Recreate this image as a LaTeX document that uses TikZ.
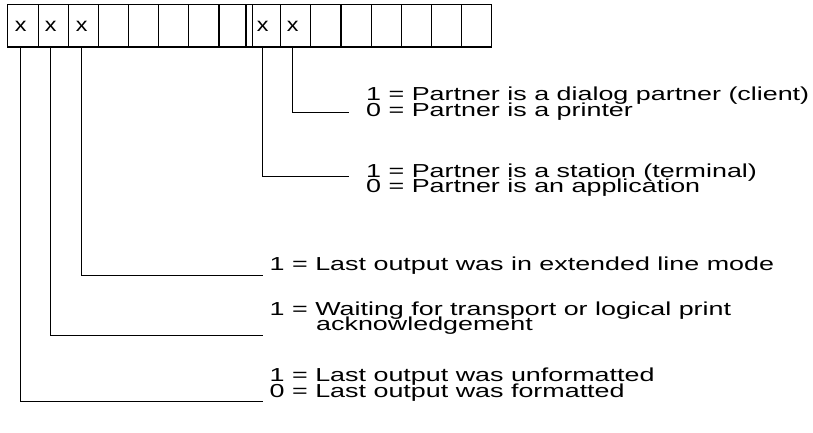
\documentclass[tikz,border=0pt]{standalone}
\usepackage{fontspec}
\newfontfamily\lblfont[FakeStretch=1.43]{Liberation Sans}
\newfontfamily\markfont[FakeStretch=1.2]{Liberation Sans}
\begin{document}
\begin{tikzpicture}[x=1pt,y=-1pt,
  grid/.style={line width=1.1pt},
  sepline/.style={line width=1.9pt},
  conn/.style={line width=1pt},
  lbl/.style={anchor=base west,inner sep=0pt,font=\lblfont\fontsize{18.8}{15.5}\selectfont},
  bitx/.style={inner sep=0pt,font=\markfont\fontsize{19.5}{20}\selectfont}]
\useasboundingbox (0,0) rectangle (813,433);
% register cells
\draw[grid] (7.5,4.5) rectangle (491.7,47);
\foreach \xx in {38.2,68.3,98.5,128.6,158.8,188.9,219,280.7,310.85,341,371.15,401.3,431.45,461.6}
  \draw[grid] (\xx,4.5) -- (\xx,47);
\draw[sepline] (245.7,4.5) -- (245.7,47);
\draw[sepline] (252.5,4.5) -- (252.5,47);
\coordinate (rowbot) at (0,47);
% bit marks
\node[bitx] (b1) at (20.7,26) {x};
\node[bitx] (b2) at (50.7,26) {x};
\node[bitx] (b3) at (81.7,26) {x};
\node[bitx] (b9) at (262.6,26) {x};
\node[bitx] (b10) at (292.8,26) {x};
% connector ends
\coordinate (c1) at (263.3,401.7);
\coordinate (c2) at (263.3,335.7);
\coordinate (c3) at (263.3,275);
\coordinate (c9) at (349.3,176.6);
\coordinate (c10) at (349.3,112.2);
\draw[conn] (b1 |- rowbot) |- (c1);
\draw[conn] (b2 |- rowbot) |- (c2);
\draw[conn] (b3 |- rowbot) |- (c3);
\draw[conn] (b9 |- rowbot) |- (c9);
\draw[conn] (b10 |- rowbot) |- (c10);
% labels
\node[lbl] (t10a) at (366,100.7) {1 = Partner is a dialog partner (client)};
\node[lbl] (t10b) at (366,116.2) {0 = Partner is a printer};
\node[lbl] (t9a) at (366,177.3) {1 = Partner is a station (terminal)};
\node[lbl] (t9b) at (366,192.8) {0 = Partner is an application};
\node[lbl] (t3) at (269.5,270.7) {1 = Last output was in extended line mode};
\node[lbl] (t2a) at (269.5,315) {1 = Waiting for transport or logical print};
\node[lbl] (t2b) at (316,330.3) {acknowledgement};
\node[lbl] (t1a) at (269.5,381.7) {1 = Last output was unformatted};
\node[lbl] (t1b) at (269.5,397.3) {0 = Last output was formatted};
\end{tikzpicture}
\end{document}
